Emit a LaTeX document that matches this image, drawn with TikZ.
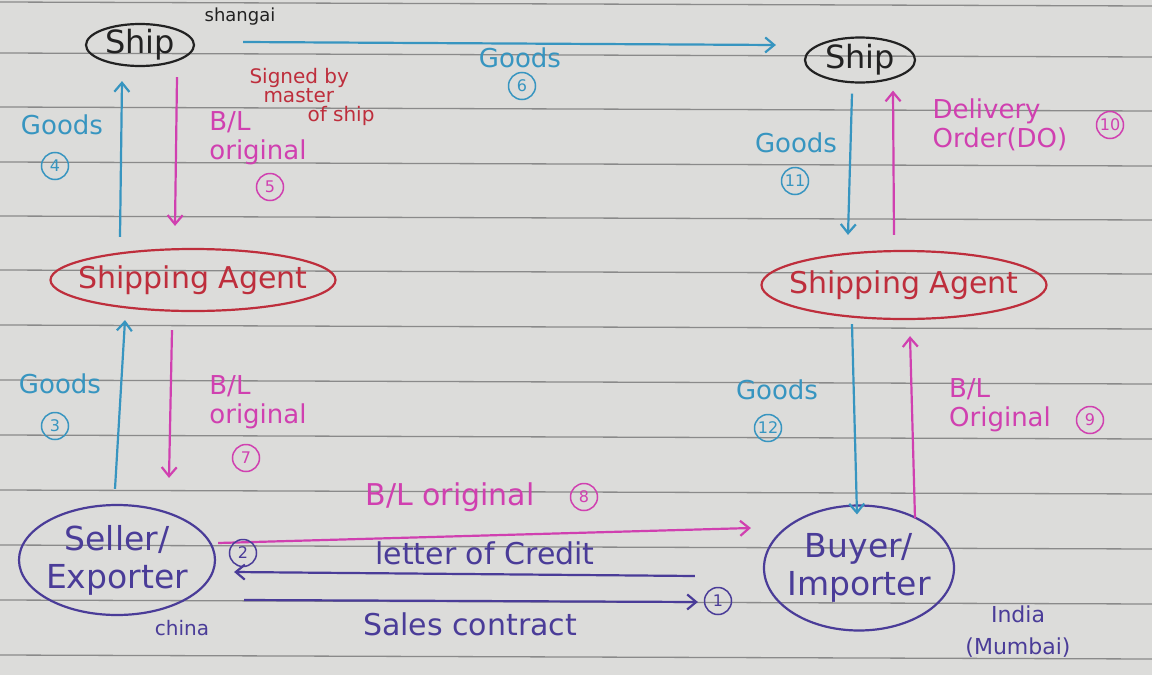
\documentclass[tikz,border=0pt]{standalone}
\usepackage{fontspec}
\setmainfont{DejaVu Sans}
\usetikzlibrary{shapes.geometric,arrows.meta}
\definecolor{paper}{HTML}{DCDCDA}
\definecolor{rule}{HTML}{8A8A8A}
\definecolor{cblue}{HTML}{3795C0}
\definecolor{cpink}{HTML}{D040B0}
\definecolor{cred}{HTML}{BE2E3C}
\definecolor{cpurp}{HTML}{4A3C98}
\definecolor{cink}{HTML}{222222}
\tikzset{
  ent/.style={ellipse,draw,line width=2.2pt,inner sep=0pt},
  lbl/.style={font=\fontsize{26}{29}\selectfont,inner sep=1pt,align=center},
  big/.style={font=\fontsize{30}{32}\selectfont},
  small/.style={font=\fontsize{18}{19}\selectfont,inner sep=1pt},
  num/.style={circle,draw,line width=1.5pt,inner sep=1pt,minimum size=27pt,font=\fontsize{16}{17}\selectfont},
  flow/.style={line width=2.2pt,-{Straight Barb[length=9pt,width=15pt]}},
  etext/.style={font=\fontsize{#1}{#1}\selectfont,align=center,text=.},
}
\begin{document}
\begin{tikzpicture}[x=1pt,y=-1pt]
\useasboundingbox (0,0) rectangle (1152,675);
\fill[paper] (0,0) rectangle (1152,675);
\foreach \y in {2,53,107,162,216,270,325,380,435,490,545,600,655}
  \draw[rule,line width=1.3pt] (0,\y) -- (1152,\y+4);

% nodes
\node[ent,cink,minimum width=108pt,minimum height=42pt,label={[etext=32,cink]center:Ship}] (ship1) at (140,45) {};
\node[ent,cink,minimum width=110pt,minimum height=45pt,label={[etext=32,cink]center:Ship}] (ship2) at (860,60) {};
\node[ent,cred,minimum width=285pt,minimum height=62pt,label={[etext=30,cred]center:Shipping Agent}] (sa1) at (193,280) {};
\node[ent,cred,minimum width=285pt,minimum height=68pt,label={[etext=30,cred]center:Shipping Agent}] (sa2) at (904,285) {};
\node[ent,cpurp,minimum width=196pt,minimum height=110pt,label={[etext=33,cpurp,font=\fontsize{33}{38}\selectfont]center:Seller/\\Exporter}] (sell) at (117,560) {};
\node[ent,cpurp,minimum width=190pt,minimum height=125pt,label={[etext=33,cpurp,font=\fontsize{33}{38}\selectfont]center:Buyer/\\Importer}] (buy) at (859,568) {};

% top goods arrow
\draw[flow,cblue] ([xshift=48pt,yshift=3pt]ship1.east) -- ([xshift=-28pt,yshift=15pt]ship2.west);
\node[small,cink] (shang) at (240,17) {shangai};
\node[lbl,cblue] (g6) at (520,58) {Goods};
\node[num,cblue] (n6) at (522,86) {6};
\node[lbl,cred,font=\fontsize{20}{19}\selectfont,align=left] (sig) at (312,97) {Signed by\\ \hspace*{14pt}master\\ \hspace*{58pt}of ship};

% left upper pair
\draw[flow,cblue] ([xshift=-73pt,yshift=11pt]sa1.north) -- ([xshift=-18pt,yshift=-14pt]ship1.south);
\node[lbl,cblue] (g4) at (62,125) {Goods};
\node[num,cblue] (n4) at (55,166) {4};
\draw[flow,cpink] ([xshift=37pt,yshift=-10pt]ship1.south) -- ([xshift=-18pt,yshift=22pt]sa1.north);
\node[lbl,cpink,align=left] (bl5) at (258,138) {B/L\\original};
\node[num,cpink] (n5) at (270,187) {5};

% left lower pair
\draw[flow,cblue] ([xshift=-2pt,yshift=15pt]sell.north) -- ([xshift=-68pt,yshift=-8pt]sa1.south);
\node[lbl,cblue] (g3) at (60,384) {Goods};
\node[num,cblue] (n3) at (55,426) {3};
\draw[flow,cpink] ([xshift=-21pt,yshift=-18pt]sa1.south) -- ([xshift=52pt,yshift=26pt]sell.north);
\node[lbl,cpink,align=left] (bl7) at (258,402) {B/L\\original};
\node[num,cpink] (n7) at (246,458) {7};

% right upper pair
\draw[flow,cblue] ([xshift=-8pt,yshift=-10pt]ship2.south) -- ([xshift=-56pt,yshift=15pt]sa2.north);
\node[lbl,cblue] (g11) at (796,143) {Goods};
\node[num,cblue] (n11) at (795,181) {11};
\draw[flow,cpink] ([xshift=-10pt,yshift=15pt]sa2.north) -- ([xshift=33pt,yshift=-7pt]ship2.south);
\node[lbl,cpink,align=left] (do) at (1000,125) {Delivery\\Order(DO)};
\node[num,cpink] (n10) at (1110,125) {10};

% right lower pair
\draw[flow,cblue] ([xshift=-52pt,yshift=-4pt]sa2.south) -- ([xshift=-2pt,yshift=-10pt]buy.north);
\node[lbl,cblue] (g12) at (777,390) {Goods};
\node[num,cblue] (n12) at (768,428) {12};
\draw[flow,cpink] ([xshift=56pt,yshift=-14pt]buy.north) -- ([xshift=6pt,yshift=-16pt]sa2.south);
\node[lbl,cpink,align=left] (bl9) at (1000,405) {B/L\\Original};
\node[num,cpink] (n9) at (1090,420) {9};

% bottom flows
\draw[flow,cpink] ([xshift=2pt,yshift=17pt]sell.east) -- ([xshift=-12pt,yshift=40pt]buy.west);
\node[lbl,big,cpink] (bl8) at (450,497) {B/L original};
\node[num,cpink] (n8) at (584,497) {8};
\draw[flow,cpurp] ([xshift=-68pt,yshift=-8pt]buy.west) -- ([xshift=18pt,yshift=-12pt]sell.east);
\node[num,cpurp] (n2) at (243,553) {2};
\node[lbl,big,cpurp] (loc) at (485,553) {letter of Credit};
\draw[flow,cpurp] ([xshift=28pt,yshift=-40pt]sell.east) -- ([xshift=-65pt,yshift=-34pt]buy.west);
\node[num,cpurp] (n1) at (718,601) {1};
\node[lbl,big,cpurp] (sc) at (470,624) {Sales contract};
\node[small,cpurp,font=\fontsize{20}{20}\selectfont] (china) at (182,628) {china};
\node[lbl,cpurp,font=\fontsize{22}{32}\selectfont] (india) at (1018,632) {India\\(Mumbai)};
\end{tikzpicture}
\end{document}
